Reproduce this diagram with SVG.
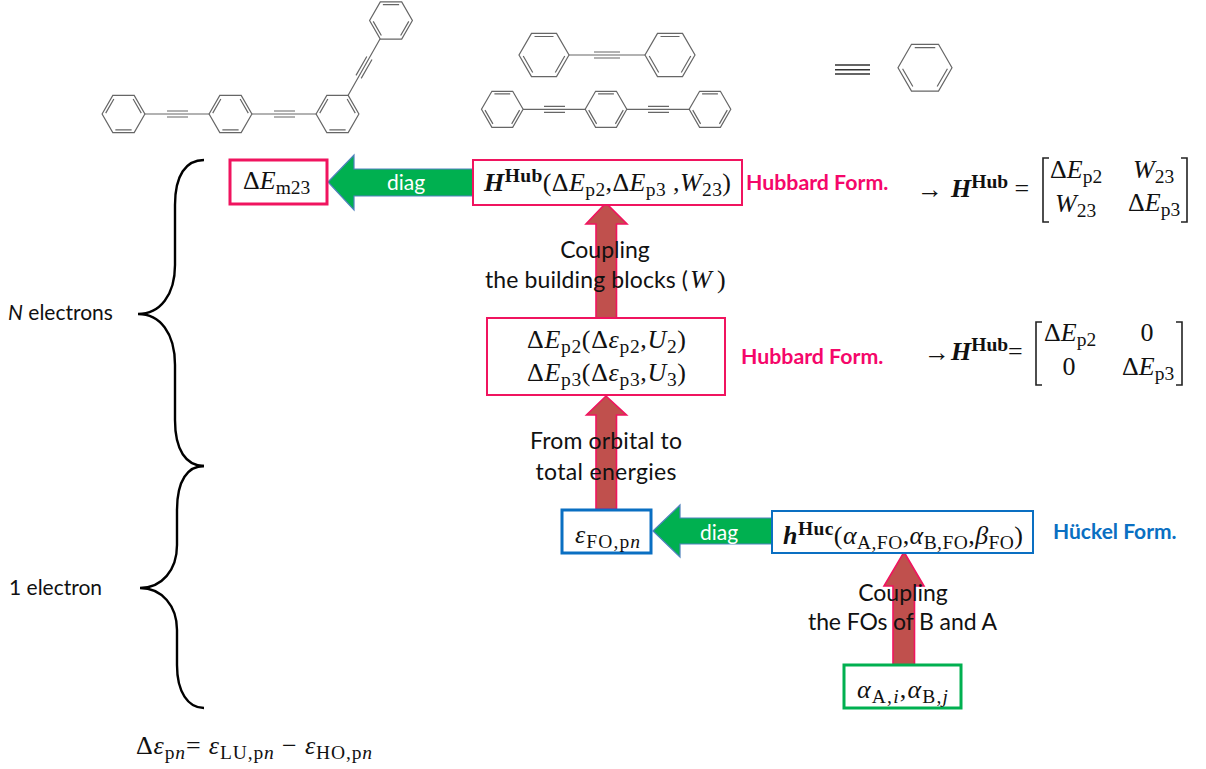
<svg xmlns="http://www.w3.org/2000/svg" width="1206" height="769" viewBox="0 0 1206 769">
<style>
.bg{fill:#fff}
.bond{stroke:#666;stroke-width:1.2;fill:none}
.ring path{stroke:#666;stroke-width:1.2;fill:none;vector-effect:non-scaling-stroke}
.bp{fill:#fff;stroke:#f0145f}
.bb{fill:#fff;stroke:#0a6fc2}
.bg3{fill:#fff;stroke:#00b050}
.up{fill:#c0504d;stroke:#f0145f;stroke-width:1.6}
.left{fill:#00b050;stroke:#4f81bd;stroke-width:1.2}
.brace{fill:none;stroke:#000;stroke-width:2.4}
.brk{fill:none;stroke:#222;stroke-width:1.6}
.t{font-family:"Lato","Liberation Sans",sans-serif;font-size:23px;fill:#111}
.l{font-size:21px}
.w{fill:#fff;text-anchor:middle;font-size:21px}
.f{font-family:"Lato","Liberation Sans",sans-serif;font-weight:700;font-size:21.3px}
.m{font-family:"Liberation Serif",serif;font-size:26px;fill:#111}
.i{font-style:italic}
.b{font-weight:700}
.s{font-size:19.5px}
</style>
<defs>
<g id="hexA" class="ring"><path d="M100 0L50 86.6L-50 86.6L-100 0L-50 -86.6L50 -86.6ZM-38 -74L38 -74M83.1 4.1L45.1 69.9M-45.1 69.9L-83.1 4.1"/></g>
<g id="hexB" class="ring"><path d="M100 0L50 86.6L-50 86.6L-100 0L-50 -86.6L50 -86.6ZM38 74L-38 74M-45.1 -69.9L-83.1 -4.1M45.1 -69.9L83.1 -4.1"/></g>
</defs>
<rect class="bg" width="1206" height="769"/>

<g id="molecule-m23">
<use href="#hexB" transform="translate(123.5 114) scale(.214)"/>
<use href="#hexB" transform="translate(230.5 114) scale(.214)"/>
<use href="#hexB" transform="translate(337.5 114) scale(.214)"/>
<use href="#hexA" transform="translate(391 20.5) scale(.214)"/>
<path class="bond" d="M145 114H209M167 111H188M167 117H188M252 114H316M274 111H295M274 117H295M348 95.5L380 39M361.2 78.4L372 59.5M356 75.4L366.8 56.5"/>
</g>
<g id="molecule-p2">
<use href="#hexA" transform="translate(544 55) scale(.25)"/>
<use href="#hexA" transform="translate(670 55) scale(.25)"/>
<path class="bond" d="M569 55H645M594 52H620M594 58H620"/>
</g>
<g id="molecule-p3">
<use href="#hexA" transform="translate(502.3 109.3) scale(.208)"/>
<use href="#hexA" transform="translate(606 109.3) scale(.208)"/>
<use href="#hexA" transform="translate(710 109.3) scale(.208)"/>
<path class="bond" d="M523 109.3H585M544 106.3H565M544 112.3H565M627 109.3H689M648 106.3H669M648 112.3H669"/>
</g>
<g id="legend-bond"><path stroke="#333" stroke-width="1.4" d="M835 65H870M835 69.7H870M835 74H870"/></g>
<g id="legend-ring"><use href="#hexA" transform="translate(925 67.7) scale(.27)"/></g>

<g id="connectors">
<polygon class="left" points="328,182 354,155 354,169 473,169 473,196 354,196 354,210"/>
<polygon class="left" points="653,531 680,505 680,518 772,518 772,544 680,544 680,557"/>
<polygon class="up" points="606,203 627,224 616.5,224 616.5,318 596,318 596,224 586,224"/>
<polygon class="up" points="606,396 626.5,415 616.5,415 616.5,509 596,509 596,415 586.5,415"/>
<polygon class="up" points="904,552 924,586 914.5,586 914.5,665 893,665 893,586 884,586"/>
</g>

<g id="braces">
<path class="brace" d="M204 160C186 160 175 175 175 205L175 265C175 295 160 314 138 314C160 314 175 333 175 365L175 420C175 450 186 466 204 466"/>
<path class="brace" d="M204 466C188 466 177 480 177 510L177 545C177 570 162 588 140 588C162 588 177 606 177 630L177 665C177 692 188 708 204 708"/>
</g>

<g id="node-Em23">
<rect class="bp" x="230" y="160" width="97" height="44" stroke-width="3"/>
<text class="m" x="243" y="189">Δ<tspan class="i">E</tspan><tspan class="s" dy="5">m23</tspan></text>
</g>
<g id="node-HHub">
<rect class="bp" x="473" y="160" width="269" height="45" stroke-width="2"/>
<text class="m" x="484" y="191" textLength="247"><tspan class="i b">H</tspan><tspan class="b s" dy="-9">Hub</tspan><tspan dy="9">(Δ</tspan><tspan class="i">E</tspan><tspan class="s" dy="5">p2</tspan><tspan dy="-5">,Δ</tspan><tspan class="i">E</tspan><tspan class="s" dy="5">p3</tspan><tspan dy="-5"> ,</tspan><tspan class="i">W</tspan><tspan class="s" dy="5">23</tspan><tspan dy="-5">)</tspan></text>
<text class="f" x="746" y="190" fill="#f5076a">Hubbard Form.</text>
</g>
<g id="node-Ep">
<rect class="bp" x="487" y="318" width="238" height="77" stroke-width="2"/>
<text class="m" x="527" y="348" textLength="159">Δ<tspan class="i">E</tspan><tspan class="s" dy="5">p2</tspan><tspan dy="-5">(Δ</tspan><tspan class="i">ε</tspan><tspan class="s" dy="5">p2</tspan><tspan dy="-5">,</tspan><tspan class="i">U</tspan><tspan class="s" dy="5">2</tspan><tspan dy="-5">)</tspan></text>
<text class="m" x="527" y="381" textLength="159">Δ<tspan class="i">E</tspan><tspan class="s" dy="5">p3</tspan><tspan dy="-5">(Δ</tspan><tspan class="i">ε</tspan><tspan class="s" dy="5">p3</tspan><tspan dy="-5">,</tspan><tspan class="i">U</tspan><tspan class="s" dy="5">3</tspan><tspan dy="-5">)</tspan></text>
<text class="f" x="741" y="364" fill="#f5076a">Hubbard Form.</text>
</g>
<g id="node-eFO">
<rect class="bb" x="562" y="510" width="89" height="43" stroke-width="3"/>
<text class="m" x="575" y="543" textLength="65"><tspan class="i">ε</tspan><tspan class="s" dy="5">FO,p</tspan><tspan class="s i">n</tspan></text>
</g>
<g id="node-hHuc">
<rect class="bb" x="772" y="511" width="261" height="42" stroke-width="2"/>
<text class="m" x="783" y="544" textLength="240"><tspan class="i b">h</tspan><tspan class="b s" dy="-9">Huc</tspan><tspan dy="9">(</tspan><tspan class="i">α</tspan><tspan class="s" dy="5">A,FO</tspan><tspan dy="-5">,</tspan><tspan class="i">α</tspan><tspan class="s" dy="5">B,FO</tspan><tspan dy="-5">,</tspan><tspan class="i">β</tspan><tspan class="s" dy="5">FO</tspan><tspan dy="-5">)</tspan></text>
<text class="f" style="font-size:21px" x="1053" y="539" fill="#0a6fc2">Hückel Form.</text>
</g>
<g id="node-alpha">
<rect class="bg3" x="844" y="665" width="117" height="43" stroke-width="3"/>
<text class="m" x="857" y="698" textLength="91"><tspan class="i">α</tspan><tspan class="s" dy="5">A,</tspan><tspan class="s i">i</tspan><tspan dy="-5">,</tspan><tspan class="i">α</tspan><tspan class="s" dy="5">B,</tspan><tspan class="s i">j</tspan></text>
</g>

<g id="labels">
<text class="t w" x="406" y="190">diag</text>
<text class="t w" x="719" y="540">diag</text>
<text class="t" x="605" y="258" text-anchor="middle">Coupling</text>
<text class="t" x="485" y="288" textLength="203">the building blocks (</text>
<text class="m i" x="690" y="288">W</text>
<text class="m" x="717" y="288">)</text>
<text class="t" x="606" y="449" text-anchor="middle" textLength="152">From orbital to</text>
<text class="t" x="606" y="480" text-anchor="middle" textLength="141">total energies</text>
<text class="t" x="903" y="601" text-anchor="middle">Coupling</text>
<text class="t" x="902.5" y="630" text-anchor="middle" textLength="189">the FOs of B and A</text>
<text class="t l" x="8" y="320"><tspan font-style="italic">N</tspan> electrons</text>
<text class="t l" x="9" y="595">1 electron</text>
<text class="m" x="136" y="754" textLength="236">Δ<tspan class="i">ε</tspan><tspan class="s" dy="5">p</tspan><tspan class="s i">n</tspan><tspan dy="-5">= </tspan><tspan class="i">ε</tspan><tspan class="s" dy="5">LU,p</tspan><tspan class="s i">n</tspan><tspan dy="-5"> − </tspan><tspan class="i">ε</tspan><tspan class="s" dy="5">HO,p</tspan><tspan class="s i">n</tspan></text>
</g>

<g id="matrix-top">
<text class="m" x="917" y="198">→</text>
<text class="m" x="951" y="197"><tspan class="i b">H</tspan><tspan class="b s" dy="-9">Hub</tspan><tspan dy="9"> =</tspan></text>
<path class="brk" d="M1049 158H1043V222H1049M1181 158H1187V222H1181"/>
<text class="m" x="1050" y="178">Δ<tspan class="i">E</tspan><tspan class="s" dy="5">p2</tspan></text>
<text class="m" x="1133" y="178"><tspan class="i">W</tspan><tspan class="s" dy="5">23</tspan></text>
<text class="m" x="1055" y="212"><tspan class="i">W</tspan><tspan class="s" dy="5">23</tspan></text>
<text class="m" x="1128" y="211">Δ<tspan class="i">E</tspan><tspan class="s" dy="5">p3</tspan></text>
</g>
<g id="matrix-bottom">
<text class="m" x="924" y="361">→</text>
<text class="m" x="951" y="360"><tspan class="i b">H</tspan><tspan class="b s" dy="-9">Hub</tspan><tspan dy="9">=</tspan></text>
<path class="brk" d="M1042 322H1036V385H1042M1176 322H1182V385H1176"/>
<text class="m" x="1044" y="341">Δ<tspan class="i">E</tspan><tspan class="s" dy="5">p2</tspan></text>
<text class="m" x="1147" y="341" text-anchor="middle">0</text>
<text class="m" x="1069" y="375" text-anchor="middle">0</text>
<text class="m" x="1122" y="375">Δ<tspan class="i">E</tspan><tspan class="s" dy="5">p3</tspan></text>
</g>
</svg>
